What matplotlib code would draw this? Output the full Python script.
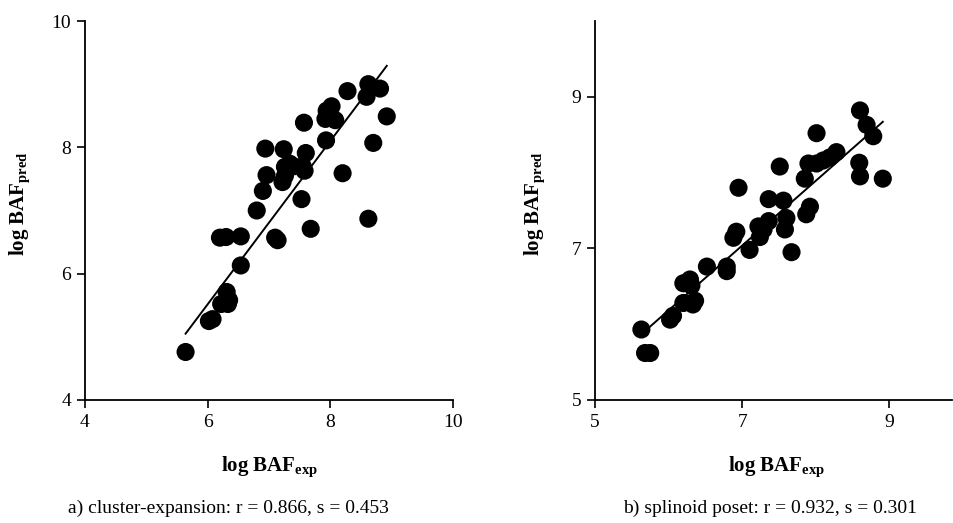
import matplotlib
matplotlib.use("Agg")
import matplotlib.pyplot as plt
import numpy as np

# ---- data: panel a (cluster-expansion) ----
a_exp = [5.64, 6.02, 6.08, 6.22, 6.30, 6.31, 6.35, 6.33, 6.54, 6.20, 6.30, 6.54,
         7.10, 7.14, 6.80, 6.90, 6.96, 6.94, 7.24, 7.22, 7.26, 7.26, 7.34, 7.40,
         7.53, 7.68, 7.58, 7.55, 7.60, 7.57, 7.93, 7.92, 7.94, 8.02, 8.08, 8.00,
         8.20, 8.28, 8.62, 8.59, 8.81, 8.92, 8.70, 8.62]
a_pred = [4.76, 5.25, 5.28, 5.52, 5.55, 5.71, 5.58, 5.52, 6.13, 6.57, 6.58, 6.59,
          6.57, 6.53, 7.00, 7.31, 7.56, 7.98, 7.97, 7.45, 7.55, 7.69, 7.74, 7.70,
          7.18, 6.71, 7.63, 7.70, 7.91, 8.39, 8.11, 8.45, 8.58, 8.65, 8.43, 8.50,
          7.59, 8.89, 9.00, 8.80, 8.93, 8.49, 8.07, 6.87]
a_line_x = [5.64, 8.92]
a_line_y = [5.05, 9.29]

# ---- data: panel b (splinoid poset) ----
b_exp = [5.63, 5.68, 5.75, 6.02, 6.06, 6.20, 6.33, 6.36, 6.20, 6.29, 6.31, 6.52,
         6.79, 6.79, 6.88, 6.92, 6.95, 7.10, 7.24, 7.22, 7.29, 7.36, 7.36, 7.51,
         7.56, 7.60, 7.58, 7.67, 7.87, 7.92, 7.85, 7.90, 8.01, 8.01, 8.10, 8.19,
         8.28, 8.60, 8.69, 8.78, 8.59, 8.60, 8.91]
b_pred = [5.93, 5.62, 5.62, 6.06, 6.11, 6.28, 6.26, 6.31, 6.54, 6.59, 6.51, 6.76,
          6.70, 6.76, 7.14, 7.22, 7.80, 6.98, 7.15, 7.29, 7.25, 7.36, 7.65, 8.08,
          7.63, 7.40, 7.25, 6.95, 7.45, 7.55, 7.92, 8.12, 8.12, 8.52, 8.16, 8.20,
          8.27, 8.82, 8.63, 8.48, 8.13, 7.95, 7.92]
b_line_x = [5.75, 8.91]
b_line_y = [5.97, 8.67]

a_xticks = [4, 6, 8, 10]
a_yticks = [4, 6, 8, 10]
b_xticks = [5, 7, 9]
b_yticks = [5, 7, 9]

xlabel = r"$\mathbf{log\ BAF_{exp}}$"
ylabel = r"$\mathbf{log\ BAF_{pred}}$"
cap_a = "a) cluster-expansion: r = 0.866, s = 0.453"
cap_b = "b) splinoid poset: r = 0.932, s = 0.301"

plt.rcParams["font.family"] = ["Liberation Serif", "DejaVu Serif"]
plt.rcParams["mathtext.fontset"] = "custom"
plt.rcParams["mathtext.rm"] = "Liberation Serif"
plt.rcParams["mathtext.bf"] = "Liberation Serif:bold"
plt.rcParams["mathtext.it"] = "Liberation Serif:italic"

W, H = 954, 523
fig = plt.figure(figsize=(W / 100, H / 100), dpi=100)

def px_axes(x0, x1, ytop, ybot):
    return fig.add_axes([x0 / W, (H - ybot) / H, (x1 - x0) / W, (ybot - ytop) / H])

ax1 = px_axes(85, 453, 21, 400)
ax2 = px_axes(595, 952, 21, 400)

def style(ax, xlim, ylim, xt, yt):
    ax.set_xlim(*xlim)
    ax.set_ylim(*ylim)
    ax.set_xticks(xt)
    ax.set_yticks(yt)
    for s in ("top", "right"):
        ax.spines[s].set_visible(False)
    for s in ("left", "bottom"):
        ax.spines[s].set_linewidth(1.3)
    ax.tick_params(direction="out", length=6, width=1.2, labelsize=14, pad=4)

ax1.scatter(a_exp, a_pred, s=170, c="black", edgecolors="none", zorder=3, clip_on=False)
ax1.plot(a_line_x, a_line_y, color="black", lw=1.4, zorder=4)
style(ax1, (4, 10), (4, 10), a_xticks, a_yticks)

ax2.scatter(b_exp, b_pred, s=170, c="black", edgecolors="none", zorder=3, clip_on=False)
ax2.plot(b_line_x, b_line_y, color="black", lw=1.4, zorder=4)
style(ax2, (5, 9.85), (5, 10), b_xticks, b_yticks)

fig.text(269 / W, 1 - 467 / H, xlabel, ha="center", va="center", fontsize=15)
fig.text(776 / W, 1 - 467 / H, xlabel, ha="center", va="center", fontsize=15)
fig.text(20 / W, 1 - 204 / H, ylabel, ha="center", va="center", fontsize=15, rotation=90)
fig.text(535 / W, 1 - 204 / H, ylabel, ha="center", va="center", fontsize=15, rotation=90)
fig.text(228 / W, 1 - 508 / H, cap_a, ha="center", va="center", fontsize=14)
fig.text(770 / W, 1 - 508 / H, cap_b, ha="center", va="center", fontsize=14)

fig.savefig("out.png", dpi=100)
